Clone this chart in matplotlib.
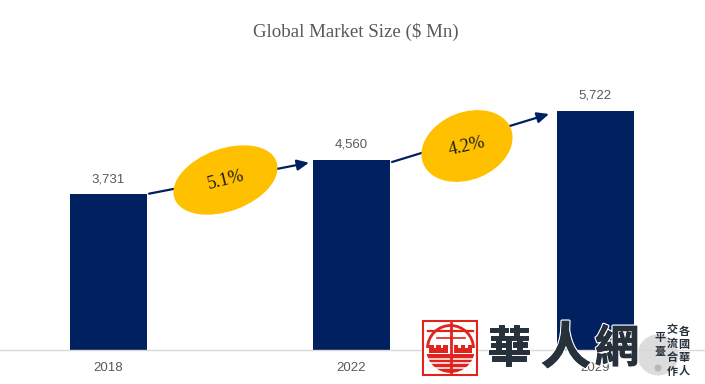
import matplotlib
matplotlib.use('Agg')
import matplotlib.pyplot as plt
import matplotlib.patheffects as pe
from matplotlib.patches import Ellipse, Rectangle, Circle, Wedge

years = ['2018', '2022', '2029']
market_size = [3731, 4560, 5722]
growth_labels = ['5.1%', '4.2%']

NAVY = '#002060'
GOLD = '#FFC000'
GREY = '#595959'
RED = '#E0231C'
INK = '#27313B'

W, H = 705, 384
BASE_Y = 350

fig = plt.figure(figsize=(W / 100, H / 100), dpi=100, facecolor='white')

# bars, same pixel scale as the picture
ax = fig.add_axes([0, (H - BASE_Y) / H, 1, BASE_Y / H])
ax.set_xlim(-108 / 243.5, (W - 108) / 243.5)
ax.set_ylim(0, BASE_Y / 0.04177)
bars = ax.bar(range(3), market_size, width=77 / 243.5, color=NAVY, zorder=2)
ax.bar_label(bars, labels=[f'{v:,}' for v in market_size], padding=6.5,
             fontsize=9.5, color=GREY, family='Liberation Sans')
ax.set_xticks(range(3), years, fontsize=9.5, color=GREY, family='Liberation Sans')
ax.tick_params(axis='x', length=0, pad=8.5)
ax.set_yticks([])
for side in ['top', 'left', 'right']:
    ax.spines[side].set_visible(False)
ax.spines['bottom'].set_color('#D9D9D9')
ax.spines['bottom'].set_linewidth(1)
ax.patch.set_alpha(0)

# overlay in image pixels for the callouts and the watermark
ov = fig.add_axes([0, 0, 1, 1], zorder=5)
ov.set_xlim(0, W)
ov.set_ylim(H, 0)
ov.axis('off')

ov.text(355.5, 32, 'Global Market Size ($ Mn)', ha='center', va='center',
        fontsize=13.6, color=GREY, family='Liberation Serif')

arrows = [((149, 193.7), (309, 162.7)), ((392, 162), (549, 114))]
for start, end in arrows:
    ov.annotate('', xy=end, xytext=start,
                arrowprops=dict(arrowstyle='-|>,head_length=0.7,head_width=0.32',
                                color=NAVY, lw=1.6, shrinkA=0, shrinkB=0))

ellipses = [((225.5, 180), 107, 61, -20, -14), ((467, 146), 93, 66, -22, -13)]
for (center, w, h, tilt, text_tilt), label in zip(ellipses, growth_labels):
    ov.add_patch(Ellipse(center, w, h, angle=tilt, color=GOLD, zorder=3))
    ov.text(center[0], center[1], label, ha='center', va='center', fontsize=13,
            rotation=-text_tilt, rotation_mode='anchor', color='#1A1A1A',
            family='Liberation Serif', zorder=4)

# watermark logo
LOGO_X, LOGO_Y = 450.5, 348.5
ov.add_patch(Rectangle((423, 321), 54, 54, fc='white', ec=RED, lw=1.5, zorder=6))
ov.add_patch(Circle((LOGO_X, LOGO_Y), 23, fc='white', ec=RED, lw=2, zorder=6))
ov.add_patch(Wedge((LOGO_X, LOGO_Y), 23.5, 0, 180, fc=RED, ec='none', zorder=6))
# white gap and stripes over the lower half
ov.add_patch(Rectangle((426, LOGO_Y - 1), 49, 6, fc='white', ec='none', zorder=7))
for y0 in [358.5, 363, 367.5]:
    ov.plot([426, 475], [y0, y0], color='white', lw=1.1, zorder=7)
# battlement band
for x0 in [429, 453.5]:
    ov.add_patch(Rectangle((x0, 347.5), 18.5, 5.5, fc=RED, ec='none', zorder=7))
    for dx in [0, 7, 14]:
        ov.add_patch(Rectangle((x0 + dx, 344.5), 4.5, 3.5, fc=RED, ec='none', zorder=7))
ov.plot([428, 473], [331, 331], color=RED, lw=1.6, zorder=7)
ov.plot([LOGO_X, LOGO_X], [323, 374], color=RED, lw=2, zorder=7)
ov.plot([LOGO_X - 14, LOGO_X + 14], [338, 338], color=RED, lw=1.2, zorder=7)

ov.add_patch(Circle((658, 355), 20.5, fc='#D6D6D6', ec='none', alpha=0.85, zorder=6))
ov.add_patch(Circle((658, 368), 3.5, fc='#B8B8B8', ec='none', zorder=6))

cjk = ['Noto Sans CJK TC', 'DejaVu Sans']
halo = [pe.withStroke(linewidth=2.4, foreground='white'),
        pe.withStroke(linewidth=0.7, foreground=INK)]
for x, ch, size in [(509, '華', 31), (566, '人', 36), (617, '網', 32)]:
    ov.text(x, 349, ch, ha='center', va='center', fontsize=size, color=INK,
            family=cjk, fontweight='bold', zorder=8, path_effects=halo)
for x, y0, step, col in [(684, 332, 12.7, '各國華人'), (672, 330, 13.7, '交流合作'), (660, 337, 15, '平臺')]:
    for i, ch in enumerate(col):
        ov.text(x, y0 + i * step, ch, ha='center', va='center', fontsize=8, color=INK,
                family=cjk, fontweight='bold', zorder=8)

fig.savefig('out.png', dpi=100, facecolor='white')
